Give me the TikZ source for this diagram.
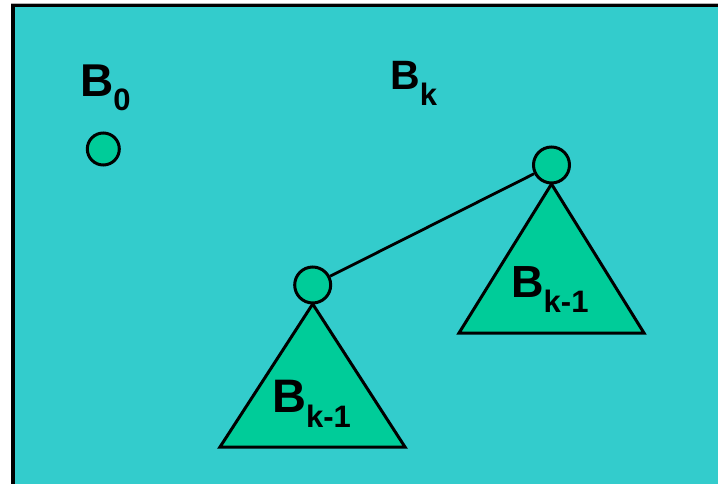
\documentclass[tikz,border=0pt]{standalone}
\usepackage{fontspec}
\setmainfont{Liberation Sans}
\usetikzlibrary{positioning}
\definecolor{bgteal}{RGB}{51,204,204}
\definecolor{nodegreen}{RGB}{0,204,153}
\newcommand{\bname}[3]{{\fontsize{#1}{#1}\selectfont B}\raisebox{-#3pt}{\fontsize{31}{31}\selectfont #2}}

\begin{document}
\begin{tikzpicture}[
  x=1pt,y=-1pt,
  font=\bfseries,
  root/.style={circle,draw=black,line width=3pt,fill=nodegreen,
               minimum size=36pt,inner sep=0pt},
  leaf/.style={root,minimum size=32pt},
  tri/.style={draw=black,line width=3pt,fill=nodegreen},
  lbl/.style={anchor=base west,inner sep=0pt},
  link/.style={line width=2.8pt},
]
\useasboundingbox (0,0) rectangle (718,484);
\fill[white] (0,0) rectangle (718,484);
\draw[gray!60,line width=1pt] (11,3.5) -- (718,3.5);
\fill[bgteal] (13,5.5) rectangle (718,484);
\draw[line width=3.5pt] (13,484) -- (13,5.5) -- (718,5.5);

% B_0
\node[leaf] (single) at (103.3,149) {};
\node[lbl] (lbzero) at (80,97) {\bname{46}{0}{14}};

% B_k built from two B_{k-1}
\node[lbl] (lbk) at (390,90) {\bname{41}{k}{16}};
\coordinate (cR) at (551.5,165);
\coordinate (cL) at (312.7,285);
\draw[tri] (551.5,184) -- (459,333) -- (644,333) -- cycle;
\draw[tri] (312.7,304) -- (220,447) -- (405,447) -- cycle;
\node[root] (rootR) at (cR) {};
\node[root] (rootL) at (cL) {};
\draw[link] (rootL) -- (rootR);
\node[lbl] (lbR) at (511,297) {\bname{45}{k-1}{15}};
\node[lbl] (lbL) at (272,412) {\bname{47}{k-1}{15}};
\end{tikzpicture}
\end{document}
